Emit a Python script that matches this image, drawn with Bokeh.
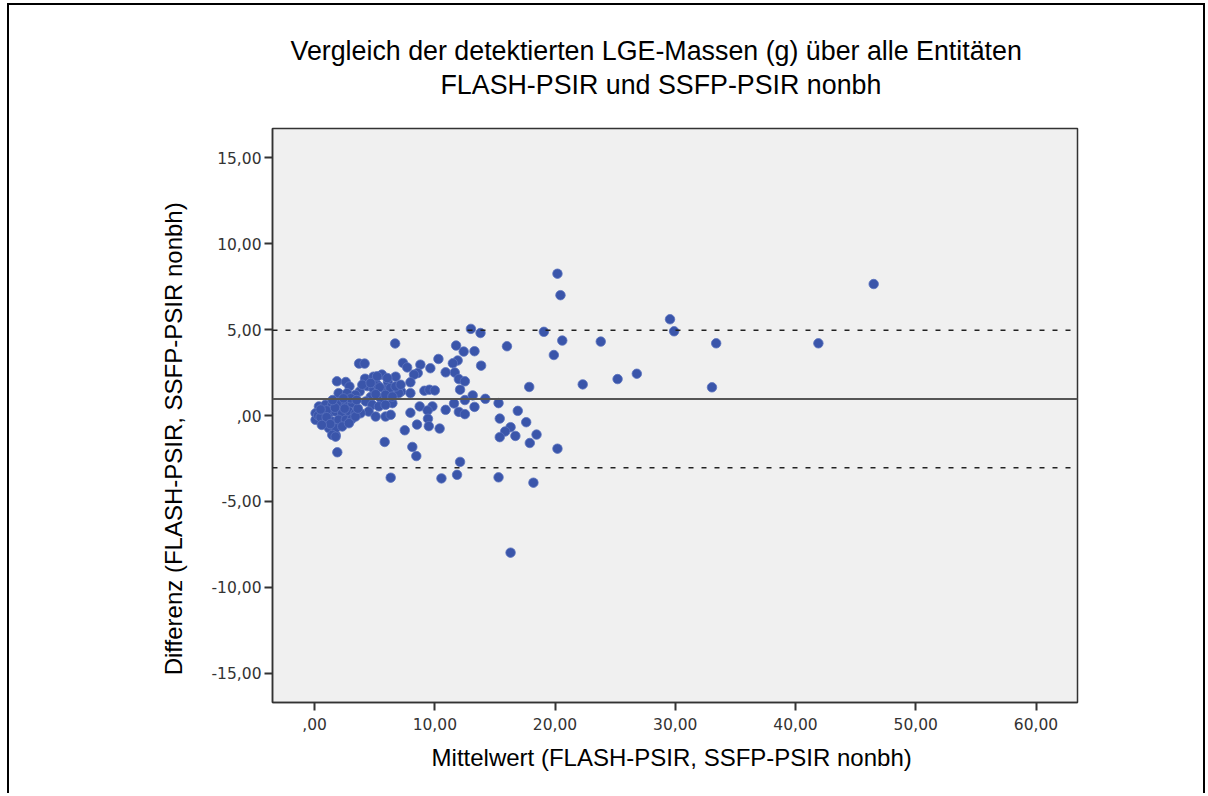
from bokeh.plotting import figure
from bokeh.models import FixedTicker, Span, Title, ColumnDataSource, Range1d
from bokeh.embed import file_html
from bokeh.resources import INLINE

# ---- data ----
mittelwert = [
    46.5, 29.56, 29.9, 33.4, 33.05, 41.9, 20.2, 20.45, 13.0, 13.8, 19.07, 20.6, 23.8,
    11.77, 12.4, 13.3, 16.0, 19.9, 11.9, 11.5, 13.85, 11.66, 12.0, 12.5, 22.3, 25.2,
    26.8, 17.85, 12.1, 13.15, 12.5, 11.6, 14.2, 15.3, 13.3, 12.0, 12.5, 16.9, 15.4,
    17.6, 16.3, 15.85, 15.4, 16.7, 18.46, 17.9, 20.2, 12.1, 11.85, 15.3, 18.2, 16.3,
    6.7, 10.3, 7.35, 7.7, 8.8, 9.63, 8.58, 8.27, 10.9, 6.74, 6.97, 7.97, 7.97, 7.2,
    9.13, 9.55, 10.0, 8.74, 9.8, 10.9, 9.4, 7.97, 9.43, 8.52, 9.5, 10.4, 7.5, 8.13,
    8.46, 10.55, 6.33, 5.83, 1.89, 1.75,
    3.7, 4.16, 1.86, 2.6, 2.9, 4.2, 4.9, 5.6, 6.1, 3.75, 4.39, 4.9, 5.2, 5.9, 6.3,
    6.9, 7.0, 2.1, 4.66, 5.5, 6.47, 5.2, 6.05, 3.97, 4.66, 5.41, 6.74, 7.16, 2.0,
    2.7, 3.4, 5.08, 5.9, 6.47, 0.36, 0.9, 1.47, 2.0, 2.6, 3.14, 0.08, 0.64, 1.2,
    1.75, 2.3, 2.86, 3.4, 0.08, 0.78, 1.47, 2.0, 2.6, 3.1, 1.2, 1.75, 2.3, 1.47,
    1.75, 4.25, 4.8, 5.35, 5.9, 4.5, 5.08, 5.9, 6.33, 3.83, 3.4, 2.86,
    0.3, 0.5, 1.0, 1.0, 0.5, 1.3, 0.6, 2.5, 1.7, 3.6, 3.0, 3.5, 2.4, 1.5,
]
differenz = [
    7.65, 5.6, 4.9, 4.2, 1.64, 4.2, 8.25, 7.0, 5.04, 4.8, 4.87, 4.36, 4.3,
    4.07, 3.72, 3.74, 4.03, 3.52, 3.2, 3.04, 2.9, 2.5, 2.12, 1.99, 1.81, 2.12,
    2.43, 1.66, 1.5, 1.17, 0.9, 0.7, 0.97, 0.72, 0.5, 0.21, 0.08, 0.27, -0.18,
    -0.39, -0.68, -0.93, -1.26, -1.19, -1.11, -1.6, -1.93, -2.7, -3.45, -3.6, -3.91, -7.98,
    4.19, 3.29, 3.06, 2.8, 2.96, 2.75, 2.47, 2.38, 2.51, 2.26, 1.69, 1.93, 1.3, 1.4,
    1.44, 1.5, 1.46, 0.53, 0.53, 0.33, 0.29, 0.16, -0.19, -0.53, -0.62, -0.76, -0.86, -1.83,
    -2.36, -3.66, -3.62, -1.54, -2.14, -1.13,
    3.02, 3.02, 1.99, 1.95, 1.69, 2.14, 2.26, 2.38, 1.93, 1.4, 1.71, 1.56, 1.79, 1.5, 1.6,
    1.6, 1.3, 1.2, 1.07, 1.01, 0.72, 2.28, 2.18, 1.79, 1.89, 1.64, 1.69, 1.79, 1.3,
    1.3, 1.2, 1.24, 1.2, 1.1, 0.53, 0.62, 0.62, 0.72, 0.62, 0.72, 0.13, 0.23, 0.13,
    0.23, 0.13, 0.23, 0.13, -0.25, -0.25, -0.35, -0.25, -0.25, -0.2, -0.74, -0.74, -0.64, -1.13,
    -1.23, 0.82, 0.62, 0.53, 0.62, 0.23, -0.06, -0.06, 0.04, 0.13, -0.06, -0.45,
    0.0, -0.1, 0.3, -0.1, 0.35, -0.5, -0.55, 0.4, 0.45, 0.4, 1.0, 0.9, 1.0, 0.9,
]
mean_diff = 0.96
upper_loa = 4.96
lower_loa = -3.04

x_ticks = [0, 10, 20, 30, 40, 50, 60]
x_tick_labels = [",00", "10,00", "20,00", "30,00", "40,00", "50,00", "60,00"]
y_ticks = [-15, -10, -5, 0, 5, 10, 15]
y_tick_labels = ["-15,00", "-10,00", "-5,00", ",00", "5,00", "10,00", "15,00"]

title_lines = ["Vergleich der detektierten LGE-Massen (g) über alle Entitäten",
               "FLASH-PSIR und SSFP-PSIR nonbh"]
x_title = "Mittelwert (FLASH-PSIR, SSFP-PSIR nonbh)"
y_title = "Differenz (FLASH-PSIR, SSFP-PSIR nonbh)"

NBSP = "\u00a0"

# ---- figure ----
p = figure(width=1198, height=790, output_backend="svg", toolbar_location=None,
           x_range=Range1d(-3.5, 63.45), y_range=Range1d(-16.7, 16.7),
           min_border_left=263, min_border_right=130, min_border_top=123,
           min_border_bottom=93)
p.styles = {"border-left": "2px solid black", "border-top": "2px solid black",
            "border-right": "2px solid black", "margin-top": "3px",
            "margin-left": "7px"}

p.background_fill_color = "#F0F0F0"
p.border_fill_color = "white"
p.outline_line_color = "#333333"
p.outline_line_width = 1.5
p.grid.visible = False

for ax in (p.xaxis[0], p.yaxis[0]):
    ax.axis_line_color = "#333333"
    ax.axis_line_width = 1.5
    ax.major_tick_line_color = "#333333"
    ax.major_tick_line_width = 2
    ax.major_tick_out = 8
    ax.major_tick_in = 0
    ax.minor_tick_line_color = None
    ax.major_label_text_font = "DejaVu Sans"
    ax.major_label_text_font_size = "15.5px"
    ax.major_label_text_color = "#333333"
    ax.axis_label_text_font = "Liberation Sans"
    ax.axis_label_text_font_size = "24px"
    ax.axis_label_text_font_style = "normal"
    ax.axis_label_text_color = "black"

p.xaxis.ticker = FixedTicker(ticks=x_ticks)
p.yaxis.ticker = FixedTicker(ticks=y_ticks)
p.xaxis.major_label_overrides = dict(zip(x_ticks, x_tick_labels))
p.yaxis.major_label_overrides = dict(zip(y_ticks, y_tick_labels))
p.xaxis.major_label_standoff = 7
p.yaxis.major_label_standoff = 3
# trailing no-break spaces shift the centred axis titles slightly along the axis
p.xaxis.axis_label = x_title + NBSP
p.yaxis.axis_label = y_title + NBSP * 7
p.xaxis.axis_label_standoff = 11
p.yaxis.axis_label_standoff = 22

src = ColumnDataSource(dict(x=mittelwert, y=differenz))
p.scatter("x", "y", source=src, size=9.5, fill_color="#3A55AA",
          line_color="#5A72BE", line_width=0.8)

p.add_layout(Span(location=mean_diff, dimension="width", line_color="#555555",
                  line_width=2))
for loc in (upper_loa, lower_loa):
    p.add_layout(Span(location=loc, dimension="width", line_color="#222222",
                      line_width=1.5, line_dash="5 8"))

# spacer, then the two title lines (nearest to the frame first)
spacer = Title(text=" ", text_font_size="10px", standoff=15)
t2 = Title(text=title_lines[1], align="left", offset=168, standoff=2,
           text_font="Liberation Sans", text_font_size="26.8px",
           text_font_style="normal", text_color="black")
t1 = Title(text=title_lines[0], align="left", offset=18, standoff=2,
           text_font="Liberation Sans", text_font_size="26.8px",
           text_font_style="normal", text_color="black")
p.add_layout(spacer, "above")
p.add_layout(t2, "above")
p.add_layout(t1, "above")

open("out.html", "w").write(file_html(p, INLINE))
